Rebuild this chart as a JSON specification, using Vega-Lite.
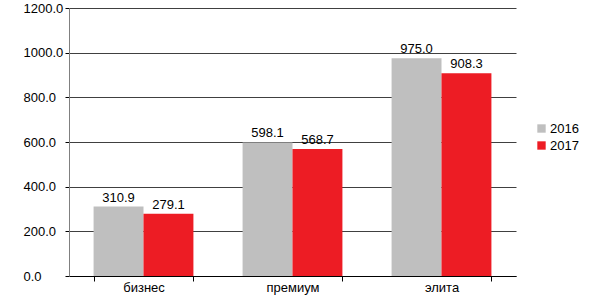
{
  "$schema": "https://vega.github.io/schema/vega-lite/v6.json",
  "width": 447,
  "height": 268,
  "autosize": {"type": "none"},
  "padding": {"left": 69, "top": 8, "right": 81, "bottom": 23},
  "background": "white",
  "config": {
    "font": "Liberation Sans",
    "view": {"stroke": null}
  },
  "data": {
    "values": [
      {"cat": "бизнес", "year": "2016", "value": 310.9},
      {"cat": "бизнес", "year": "2017", "value": 279.1},
      {"cat": "премиум", "year": "2016", "value": 598.1},
      {"cat": "премиум", "year": "2017", "value": 568.7},
      {"cat": "элита", "year": "2016", "value": 975.0},
      {"cat": "элита", "year": "2017", "value": 908.3}
    ]
  },
  "encoding": {
    "x": {
      "field": "cat",
      "type": "nominal",
      "sort": ["бизнес", "премиум", "элита"],
      "scale": {"paddingInner": 0.33, "paddingOuter": 0.165},
      "axis": {
        "title": null,
        "labelAngle": 0,
        "labelFontSize": 13,
        "labelColor": "#000",
        "labelPadding": 0,
        "tickBand": "extent",
        "tickSize": 5,
        "tickWidth": 1,
        "tickColor": "#000",
        "domainColor": "#000",
        "grid": false
      }
    },
    "xOffset": {
      "field": "year",
      "type": "nominal",
      "scale": {"paddingInner": 0, "paddingOuter": 0}
    },
    "y": {
      "field": "value",
      "type": "quantitative",
      "scale": {"domain": [0, 1200], "nice": false},
      "axis": {
        "title": null,
        "values": [0, 200, 400, 600, 800, 1000, 1200],
        "format": ".1f",
        "labelFontSize": 13,
        "labelColor": "#000",
        "labelAlign": "left",
        "labelPadding": 42,
        "tickSize": 4,
        "tickColor": "#000",
        "domainColor": "#808080",
        "grid": true,
        "gridColor": "#404040",
        "gridWidth": 1
      }
    }
  },
  "layer": [
    {
      "mark": {"type": "bar"},
      "encoding": {
        "color": {
          "field": "year",
          "type": "nominal",
          "scale": {"domain": ["2016", "2017"], "range": ["#bfbfbf", "#ed1c24"]},
          "legend": {
            "title": null,
            "orient": "none",
            "legendX": 466,
            "legendY": 114,
            "symbolType": "square",
            "symbolSize": 70,
            "symbolStrokeWidth": 0,
            "labelFontSize": 13,
            "labelColor": "#000",
            "labelOffset": 2,
            "rowPadding": 3
          }
        }
      }
    },
    {
      "mark": {"type": "text", "baseline": "bottom", "dy": -2, "fontSize": 13, "color": "#000"},
      "encoding": {
        "text": {"field": "value", "type": "quantitative", "format": ".1f"}
      }
    }
  ]
}
